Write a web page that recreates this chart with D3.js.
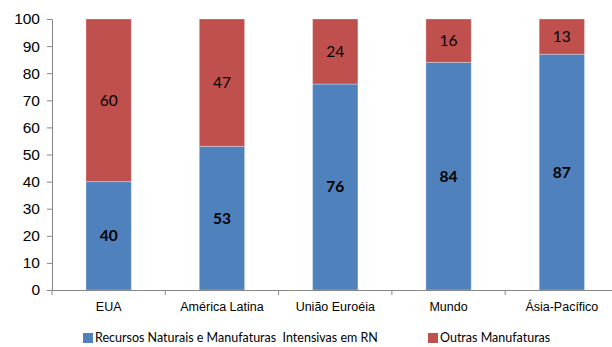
<!DOCTYPE html>
<html>
<head>
<meta charset="utf-8">
<script src="https://cdn.jsdelivr.net/npm/d3@7"></script>
<style>
  html, body { margin: 0; padding: 0; background: #fff; }
  svg { display: block; font-family: Lato, "Open Sans", sans-serif; }
</style>
</head>
<body>
<svg id="chart" width="612" height="347"></svg>
<script>
// Composition of exports by region (%)
const categories = ["EUA", "América Latina", "União Euroéia", "Mundo", "Ásia-Pacífico"];
const recursosNaturais = [40, 53, 76, 84, 87];
const outrasManufaturas = [60, 47, 24, 16, 13];
const yTicks = [0, 10, 20, 30, 40, 50, 60, 70, 80, 90, 100];
const seriesNames = ["Recursos Naturais e Manufaturas  Intensivas em RN", "Outras Manufaturas"];
const seriesColors = ["#4F81BD", "#C0504D"];

(function () {
const svg = d3.select("#chart");
const plotLeft = 52, plotRight = 618.5, plotTop = 19, plotBottom = 290;

const x = d3.scaleBand().domain(categories).range([plotLeft, plotRight])
  .paddingInner(0.6).paddingOuter(0.3);
const y = d3.scaleLinear().domain([0, 100]).range([plotBottom, plotTop]);

const rows = categories.map((c, i) => ({ cat: c, a: recursosNaturais[i], b: outrasManufaturas[i] }));
const stack = d3.stack().keys(["a", "b"])(rows);

// Y axis
const yAxis = svg.append("g").attr("transform", `translate(${plotLeft},0)`)
  .call(d3.axisLeft(y).tickValues(yTicks).tickSize(5).tickPadding(7));
yAxis.select(".domain").attr("stroke", "#868686");
yAxis.selectAll(".tick line").attr("stroke", "#868686");
yAxis.selectAll(".tick text").attr("font-size", 15.5).attr("fill", "#000");

// Bars
stack.forEach((layer, li) => {
  svg.append("g").selectAll("rect").data(layer).join("rect")
    .attr("x", d => x(d.data.cat))
    .attr("width", x.bandwidth())
    .attr("y", d => y(d[1]))
    .attr("height", d => y(d[0]) - y(d[1]))
    .attr("fill", seriesColors[li])
    .attr("stroke", "#fff").attr("stroke-opacity", 0.3).attr("stroke-width", 1);
});

// Value labels
stack.forEach((layer, li) => {
  svg.append("g").selectAll("text").data(layer).join("text")
    .attr("x", d => x(d.data.cat) + x.bandwidth() / 2)
    .attr("y", d => y((d[0] + d[1]) / 2))
    .attr("dy", "0.35em")
    .attr("text-anchor", "middle")
    .attr("font-size", 15.5)
    .attr("font-weight", li === 0 ? "bold" : "normal")
    .attr("fill", "#000")
    .text(d => d[1] - d[0]);
});

// X axis
const xAxis = svg.append("g").attr("transform", `translate(0,${plotBottom})`)
  .call(d3.axisBottom(x).tickSize(0).tickPadding(12));
xAxis.select(".domain").attr("stroke", "#868686");
xAxis.selectAll(".tick text").attr("font-size", 12.5).attr("fill", "#000");
// tick marks between categories
const step = x.step();
const bounds = d3.range(categories.length + 1).map(i => plotLeft + i * step);
xAxis.selectAll(".sep").data(bounds).join("line").attr("class", "sep")
  .attr("x1", d => d).attr("x2", d => d).attr("y1", 0).attr("y2", 5)
  .attr("stroke", "#868686");

// Legend
const legendX = [83, 428];
const legend = svg.append("g");
seriesNames.forEach((name, i) => {
  legend.append("rect").attr("x", legendX[i]).attr("y", 333).attr("width", 10).attr("height", 10)
    .attr("fill", seriesColors[i]);
  legend.append("text").attr("x", legendX[i] + 12).attr("y", 338).attr("dy", "0.35em")
    .attr("font-size", 12.5).attr("fill", "#000").style("white-space", "pre")
    .text(name);
});
})();
</script>
</body>
</html>
